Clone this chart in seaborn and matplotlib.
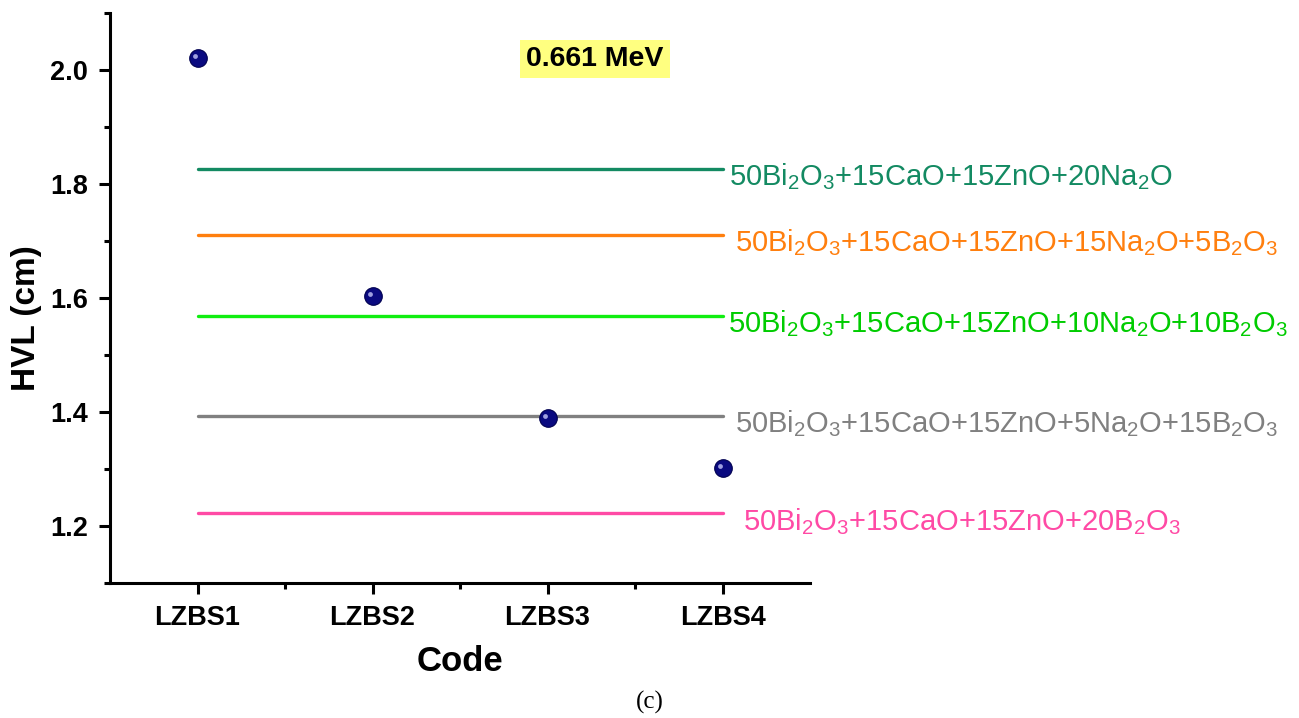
import numpy as np
import pandas as pd
import matplotlib.pyplot as plt
from matplotlib.ticker import MultipleLocator
import seaborn as sns

# veriler
codes = ["LZBS1", "LZBS2", "LZBS3", "LZBS4"]
hvl = [2.021, 1.603, 1.389, 1.302]

compositions = [
    r"50Bi$_2$O$_3$+15CaO+15ZnO+20Na$_2$O",
    r"50Bi$_2$O$_3$+15CaO+15ZnO+15Na$_2$O+5B$_2$O$_3$",
    r"50Bi$_2$O$_3$+15CaO+15ZnO+10Na$_2$O+10B$_2$O$_3$",
    r"50Bi$_2$O$_3$+15CaO+15ZnO+5Na$_2$O+15B$_2$O$_3$",
    r"50Bi$_2$O$_3$+15CaO+15ZnO+20B$_2$O$_3$",
]
comp_hvl = [1.827, 1.711, 1.568, 1.393, 1.222]
line_colors = ["#138a62", "#ff7f0e", "#11ee11", "#808080", "#ff4aa5"]
text_colors = ["#138a62", "#ff7f0e", "#00cc00", "#808080", "#ff4aa5"]
text_dx = [5, 9, 4, 9, 15]

sns.set_style("ticks", {"axes.edgecolor": "black", "text.color": "black",
                        "xtick.color": "black", "ytick.color": "black",
                        "axes.labelcolor": "black"})
plt.rcParams["font.family"] = ["Liberation Sans", "DejaVu Sans"]
plt.rcParams["mathtext.fontset"] = "custom"
plt.rcParams["mathtext.rm"] = "Liberation Sans"
plt.rcParams["mathtext.it"] = "Liberation Sans:italic"
plt.rcParams["mathtext.bf"] = "Liberation Sans:bold"

fig = plt.figure(figsize=(12.99, 7.18), dpi=100)
ax = fig.add_axes([0.0847, 0.188, 0.5389, 0.794])

x = np.arange(1, len(codes) + 1)

# referans çizgileri
for name, val, lc, tc, dx in zip(compositions, comp_hvl, line_colors, text_colors, text_dx):
    df_line = pd.DataFrame({"x": x, "y": [val] * len(x)})
    sns.lineplot(data=df_line, x="x", y="y", color=lc, linewidth=2.4, ax=ax)
    ax.annotate(name, xy=(x[-1], val), xytext=(dx, -5.5), textcoords="offset points",
                color=tc, fontsize=21, va="center", ha="left", annotation_clip=False)

df = pd.DataFrame({"x": x, "HVL": hvl})
sns.scatterplot(data=df, x="x", y="HVL", color="#0a0a80", edgecolor="#000050",
                linewidth=0.8, s=160, zorder=5, ax=ax)
# parlama efekti
ax.scatter(x - 0.012, np.array(hvl) + 0.004, s=12, color="#9fa0e0", zorder=6, linewidths=0)

ax.set_xlim(0.5, 4.5)
ax.set_ylim(1.1, 2.1)
ax.set_xticks(x)
ax.set_xticklabels(codes)
ax.set_xticks([1.5, 2.5, 3.5], minor=True)
ax.yaxis.set_minor_locator(MultipleLocator(0.1))
ax.set_yticks([1.2, 1.4, 1.6, 1.8, 2.0])
ax.set_yticklabels(["1.2", "1.4", "1.6", "1.8", "2.0"])

for sp in ["top", "right"]:
    ax.spines[sp].set_visible(False)
for sp in ["left", "bottom"]:
    ax.spines[sp].set_linewidth(2.2)

ax.tick_params(axis="both", which="major", direction="out", length=8, width=2.2,
               labelsize=19.5, pad=8)
ax.tick_params(axis="both", which="minor", direction="out", length=4.5, width=2.2)
for lab in ax.get_xticklabels() + ax.get_yticklabels():
    lab.set_fontweight("bold")

ax.set_xlabel("Code", fontsize=25, fontweight="bold", labelpad=10)
ax.set_ylabel("HVL (cm)", fontsize=24, fontweight="bold")
ax.yaxis.set_label_coords(-0.097, 0.465)

ax.text(3.27, 2.019, "0.661 MeV", fontsize=20.5, fontweight="bold", ha="center", va="center",
        bbox=dict(boxstyle="square,pad=0.22", facecolor="#ffff80", edgecolor="none"))

fig.text(0.5, 0.005, "(c)", fontsize=18, family=["Liberation Serif", "DejaVu Serif"],
         ha="center", va="bottom")

fig.savefig("out.png", dpi=100)
